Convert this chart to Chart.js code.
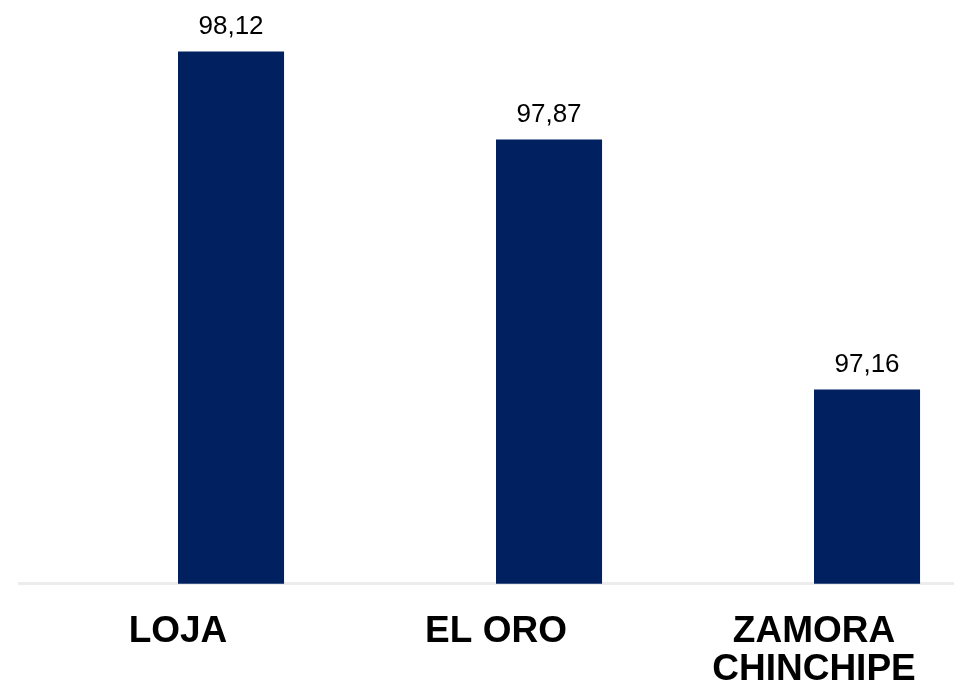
<!DOCTYPE html>
<html>
<head>
<meta charset="utf-8">
<script src="https://cdn.jsdelivr.net/npm/chart.js@4/dist/chart.umd.min.js"></script>
<style>
  html, body { margin: 0; padding: 0; background: #fff; overflow: hidden; }
  #wrap { width: 1000px; height: 718px; }
</style>
</head>
<body>
<div id="wrap"><canvas id="myChart" width="1000" height="718"></canvas></div>
<script>
// Chart data
const provincias = ['LOJA', 'EL ORO', ['ZAMORA', 'CHINCHIPE']];
const valores = [98.12, 97.87, 97.16];
const vacio = [null, null, null];
const yMin = 96.608;
const yMax = 98.266;

// draws the value above each bar (comma decimals)
const valueLabels = {
    id: 'valueLabels',
    afterDatasetsDraw(chart) {
        const ctx = chart.ctx;
        const meta = chart.getDatasetMeta(1);
        ctx.save();
        ctx.font = '26px "Liberation Sans", Arial, sans-serif';
        ctx.fillStyle = '#000';
        ctx.textAlign = 'center';
        ctx.textBaseline = 'bottom';
        meta.data.forEach((bar, i) => {
            const txt = valores[i].toFixed(2).replace('.', ',');
            ctx.fillText(txt, bar.x, bar.y - 12);
        });
        ctx.restore();
    }
};

const ctx = document.getElementById('myChart').getContext('2d');
new Chart(ctx, {
    type: 'bar',
    data: {
        labels: provincias,
        datasets: [
            { data: vacio, backgroundColor: '#002060' },
            { data: valores, backgroundColor: '#002060', borderWidth: 0 }
        ]
    },
    options: {
        responsive: false,
        animation: false,
        categoryPercentage: 0.667,
        barPercentage: 1,
        layout: {
            padding: { left: 19, right: 27, top: 0, bottom: 0 }
        },
        plugins: {
            legend: { display: false },
            tooltip: { enabled: false }
        },
        scales: {
            x: {
                grid: { display: false, drawTicks: false },
                border: { display: true, color: '#ececec', width: 3 },
                ticks: {
                    color: '#000',
                    padding: 29,
                    font: { family: '"Liberation Sans", Arial, sans-serif', size: 37, weight: 'bold', lineHeight: 1.03 }
                }
            },
            y: {
                display: false,
                min: yMin,
                max: yMax
            }
        }
    },
    plugins: [valueLabels]
});
</script>
</body>
</html>
